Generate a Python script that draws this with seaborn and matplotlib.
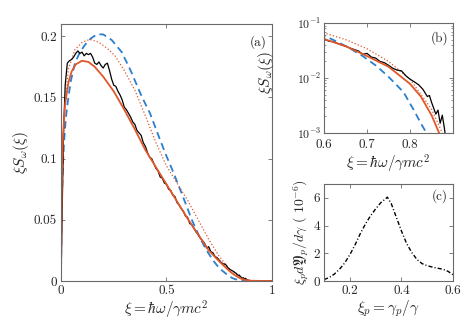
import numpy as np
import pandas as pd
import matplotlib
matplotlib.use("Agg")
import matplotlib.pyplot as plt
import seaborn as sns

# panel (a)/(b): xi*S_omega(xi) spectra
xi_blue = [0, 0.003, 0.008, 0.015, 0.023, 0.032, 0.045, 0.066, 0.09, 0.114, 0.14, 0.17, 0.2, 0.24,
           0.288, 0.33, 0.382, 0.422, 0.469, 0.5, 0.532, 0.58, 0.62, 0.659, 0.69, 0.722, 0.75,
           0.785, 0.81, 0.825, 0.838, 0.85, 0.87, 0.9, 1.0]
y_blue = [0, 0.058, 0.09, 0.115, 0.133, 0.146, 0.162, 0.178, 0.187, 0.193, 0.198, 0.2016, 0.2015,
          0.197, 0.187, 0.172, 0.151, 0.137, 0.1156, 0.102, 0.089, 0.068, 0.05, 0.035, 0.025,
          0.0165, 0.0105, 0.0055, 0.0025, 0.0015, 0.001, 0.0006, 0.0002, 0.00004, 0]

xi_dot = [0, 0.005, 0.015, 0.035, 0.066, 0.1, 0.137, 0.18, 0.22, 0.256, 0.3, 0.35, 0.4, 0.45,
          0.5, 0.55, 0.6, 0.65, 0.7, 0.75, 0.8, 0.85, 0.875, 0.9, 0.95, 1.0]
y_dot = [0, 0.08, 0.135, 0.173, 0.189, 0.195, 0.1975, 0.195, 0.19, 0.184, 0.172, 0.156, 0.135,
         0.113, 0.094, 0.08, 0.066, 0.05, 0.034, 0.02, 0.0095, 0.0027, 0.001, 0.0002, 0.00001, 0]

xi_red = [0, 0.005, 0.01, 0.02, 0.035, 0.05, 0.07, 0.1, 0.13, 0.16, 0.2, 0.25, 0.3, 0.35, 0.4,
          0.45, 0.5, 0.55, 0.6, 0.65, 0.7, 0.75, 0.8, 0.825, 0.85, 0.87, 0.9, 0.95, 1.0]
y_red = [0, 0.09, 0.12, 0.145, 0.162, 0.171, 0.177, 0.18, 0.179, 0.175, 0.167, 0.155, 0.14,
         0.124, 0.107, 0.093, 0.079, 0.065, 0.051, 0.038, 0.025, 0.016, 0.0078, 0.0046, 0.0021,
         0.0009, 0.0002, 0.00001, 0]

xi_sim = [0, 0.005, 0.012, 0.02, 0.03, 0.04, 0.05, 0.06, 0.07, 0.08, 0.09, 0.1, 0.11, 0.12,
          0.13, 0.14, 0.15, 0.16, 0.17, 0.18, 0.19, 0.2, 0.21, 0.22, 0.23, 0.24, 0.25, 0.26,
          0.27, 0.28, 0.29, 0.3, 0.31, 0.32, 0.33, 0.34, 0.35, 0.36, 0.37, 0.38, 0.39, 0.4,
          0.41, 0.42, 0.43, 0.44, 0.45, 0.46, 0.47, 0.48, 0.49, 0.5, 0.51, 0.52, 0.53, 0.54,
          0.55, 0.56, 0.57, 0.58, 0.59, 0.6, 0.61, 0.62, 0.63, 0.64, 0.65, 0.66, 0.67, 0.68,
          0.69, 0.7, 0.71, 0.72, 0.73, 0.74, 0.75, 0.76, 0.77, 0.78, 0.79, 0.8, 0.81, 0.82,
          0.83, 0.84, 0.845, 0.85, 0.86, 0.865, 0.87, 0.875, 0.88, 0.885, 0.9, 0.95, 1.0]
y_sim = [0, 0.05, 0.12, 0.16, 0.178, 0.18, 0.181, 0.183, 0.186, 0.188, 0.186, 0.187, 0.184,
         0.186, 0.185, 0.186, 0.183, 0.178, 0.177, 0.179, 0.176, 0.174, 0.177, 0.178, 0.172,
         0.165, 0.16, 0.159, 0.155, 0.152, 0.148, 0.142, 0.14, 0.137, 0.134, 0.13, 0.128,
         0.123, 0.121, 0.119, 0.113, 0.11, 0.105, 0.101, 0.1, 0.096, 0.092, 0.09, 0.085,
         0.084, 0.08, 0.079, 0.075, 0.074, 0.07, 0.069, 0.064, 0.062, 0.059, 0.057, 0.053,
         0.052, 0.047, 0.046, 0.043, 0.04, 0.038, 0.035, 0.033, 0.031, 0.027, 0.028, 0.024,
         0.023, 0.02, 0.019, 0.017, 0.015, 0.0139, 0.0135, 0.011, 0.0095, 0.0085, 0.0075,
         0.0062, 0.0046, 0.0048, 0.0036, 0.0022, 0.0026, 0.0015, 0.0021, 0.0012, 0.0006,
         0.0002, 0.00005, 0]

# panel (c): pair spectrum
xi_p = [0.1, 0.12, 0.14, 0.16, 0.18, 0.2, 0.22, 0.24, 0.26, 0.28, 0.3, 0.32, 0.34, 0.345,
        0.36, 0.38, 0.4, 0.42, 0.44, 0.46, 0.48, 0.5, 0.52, 0.54, 0.56, 0.58, 0.6]
y_p = [0.1, 0.25, 0.5, 0.85, 1.3, 1.9, 2.6, 3.4, 4.1, 4.7, 5.2, 5.65, 5.95, 6.05, 5.6, 4.6,
       3.6, 2.7, 2.05, 1.55, 1.25, 1.1, 1.0, 0.92, 0.85, 0.7, 0.45]

blue = "#2a7fcf"
red = "#e0572a"

sns.set_style("ticks")
plt.rcParams["font.family"] = ["cmr10", "DejaVu Serif"]
plt.rcParams["mathtext.fontset"] = "cm"
plt.rcParams["axes.formatter.use_mathtext"] = True
plt.rcParams["axes.edgecolor"] = "#6a6a6a"
plt.rcParams["axes.linewidth"] = 0.8

fig = plt.figure(figsize=(4.69, 3.29), dpi=100)
ax_a = fig.add_axes([0.130, 0.146, 0.450, 0.781])
ax_b = fig.add_axes([0.691, 0.596, 0.275, 0.334])
ax_c = fig.add_axes([0.691, 0.146, 0.275, 0.295])


def curves(ax):
    sns.lineplot(x=xi_blue, y=y_blue, ax=ax, color=blue, lw=1.3, ls=(0, (4, 2.5)), sort=False)
    sns.lineplot(x=xi_dot, y=y_dot, ax=ax, color=red, lw=0.9, ls=":", sort=False)
    sns.lineplot(x=xi_sim, y=y_sim, ax=ax, color="black", lw=0.9, sort=False)
    sns.lineplot(x=xi_red, y=y_red, ax=ax, color=red, lw=1.3, sort=False)


def style(ax):
    ax.tick_params(direction="in", top=True, right=True, labelsize=9.5, length=3,
                   width=0.6, color="#6a6a6a", pad=3)
    ax.tick_params(which="minor", direction="in", top=True, right=True, length=1.6,
                   width=0.5, color="#6a6a6a")


# (a)
curves(ax_a)
ax_a.set_xlim(0, 1)
ax_a.set_ylim(0, 0.21)
ax_a.set_xticks([0, 0.5, 1], ["0", "0.5", "1"])
ax_a.set_yticks([0, 0.05, 0.1, 0.15, 0.2], ["0", "0.05", "0.1", "0.15", "0.2"])
ax_a.set_xlabel(r"$\xi=\hbar\omega/\gamma mc^2$", fontsize=11, labelpad=1)
ax_a.set_ylabel(r"$\xi S_\omega(\xi)$", fontsize=11, labelpad=2)
ax_a.text(0.975, 0.955, "(a)", transform=ax_a.transAxes, ha="right", va="top", fontsize=9.5)
style(ax_a)

# (b)
curves(ax_b)
ax_b.set_yscale("log")
ax_b.set_xlim(0.6, 0.9)
ax_b.set_ylim(1e-3, 1e-1)
ax_b.set_xticks([0.6, 0.7, 0.8], ["0.6", "0.7", "0.8"])
ax_b.set_xlabel(r"$\xi=\hbar\omega/\gamma mc^2$", fontsize=11, labelpad=1)
ax_b.set_ylabel(r"$\xi S_\omega(\xi)$", fontsize=11)
ax_b.yaxis.set_label_coords(-0.37, 0.55)
ax_b.text(0.96, 0.93, "(b)", transform=ax_b.transAxes, ha="right", va="top", fontsize=9.5)
style(ax_b)
ax_b.tick_params(axis="y", labelsize=8.5, pad=2)
ax_b.tick_params(axis="x", pad=4.5)

# (c)
sns.lineplot(x=xi_p, y=y_p, ax=ax_c, color="black", lw=1.0, ls=(0, (3, 1.5, 0.8, 1.5)), sort=False)
ax_c.set_xlim(0.1, 0.6)
ax_c.set_ylim(0, 7)
ax_c.set_xticks([0.2, 0.4, 0.6], ["0.2", "0.4", "0.6"])
ax_c.set_yticks([0, 2, 4, 6], ["0", "2", "4", "6"])
ax_c.set_xlabel(r"$\xi_p=\gamma_p/\gamma$", fontsize=11, labelpad=1)
ax_c.set_ylabel(r"$\xi_p d\mathfrak{Y}_p/d\gamma$ ( $10^{-6}$)", fontsize=10, labelpad=2)
ax_c.text(0.96, 0.95, "(c)", transform=ax_c.transAxes, ha="right", va="top", fontsize=9.5)
style(ax_c)

fig.savefig("out.png", dpi=100)
